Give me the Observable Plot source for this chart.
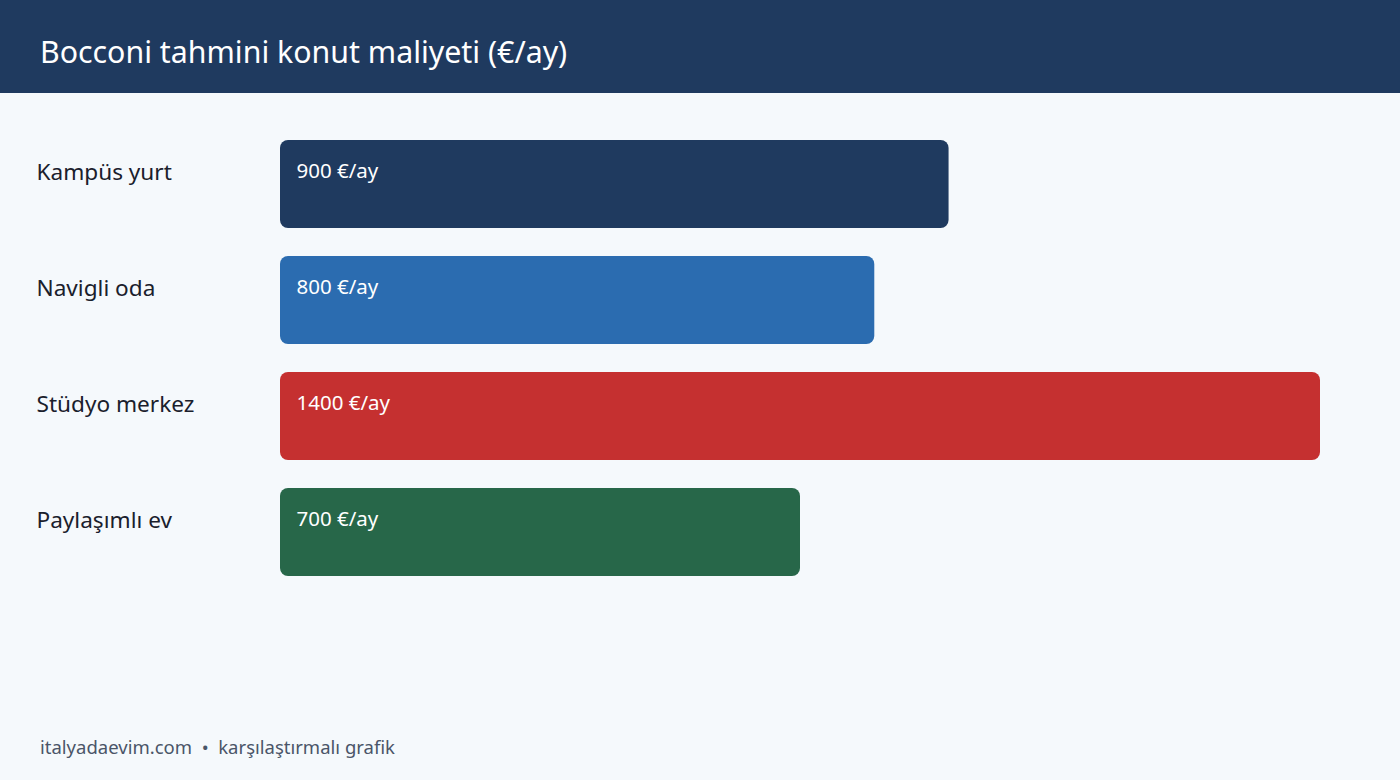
<!DOCTYPE html>
<html>
<head>
<meta charset="utf-8">
<script src="https://cdn.jsdelivr.net/npm/d3@7"></script>
<script src="https://cdn.jsdelivr.net/npm/@observablehq/plot@0.6"></script>
<style>
  html, body { margin: 0; padding: 0; background: #f5f9fc; font-family: "Noto Sans", "Open Sans", sans-serif; }
  #page { width: 1400px; height: 780px; position: relative; overflow: hidden; background: #f5f9fc; }
  #header { height: 93px; background: #1f3a5f; color: #ffffff; box-sizing: border-box; padding-left: 40px; padding-top: 10px; }
  #header h1 { margin: 0; font-weight: 400; font-size: 30.3px; line-height: 83px; letter-spacing: 0; }
  #chart svg { display: block; }
  #footer { position: absolute; left: 40px; top: 734px; font-size: 18.5px; color: #4a5568; white-space: pre; }
</style>
</head>
<body>
<div id="page">
  <div id="header"><h1>Bocconi tahmini konut maliyeti (€/ay)</h1></div>
  <div id="chart"></div>
  <div id="footer">italyadaevim.com  •  karşılaştırmalı grafik</div>
</div>
<script>
const categories = ["Kampüs yurt", "Navigli oda", "Stüdyo merkez", "Paylaşımlı ev"];
const values = [900, 800, 1400, 700];
const colors = ["#1f3a5f", "#2b6cb0", "#c53030", "#276749"];
const unit = "€/ay";

const data = categories.map((c, i) => ({ category: c, value: values[i], color: colors[i] }));

const chart = Plot.plot({
  width: 1400,
  height: 607,
  marginLeft: 280,
  marginRight: 80,
  marginTop: 47,
  marginBottom: 123,
  style: { background: "transparent", fontFamily: "\"Noto Sans\", sans-serif", overflow: "visible" },
  x: { domain: [0, 1400], axis: null },
  y: { domain: categories, axis: null, paddingInner: 28 / 117, paddingOuter: 0, align: 0 },
  marks: [
    Plot.barX(data, { x: "value", y: "category", fill: "color", rx: 8 }),
    Plot.text(data, {
      x: 0, y: "category", text: d => `${d.value} ${unit}`,
      textAnchor: "start", dx: 16, dy: -13, fill: "#ffffff", fontSize: 20.5
    }),
    Plot.text(data, {
      y: "category", text: "category", frameAnchor: "left",
      textAnchor: "start", dx: -244, dy: -12, fill: "#1a202c", fontSize: 22.6
    })
  ]
});
document.getElementById("chart").appendChild(chart);
</script>
</body>
</html>
